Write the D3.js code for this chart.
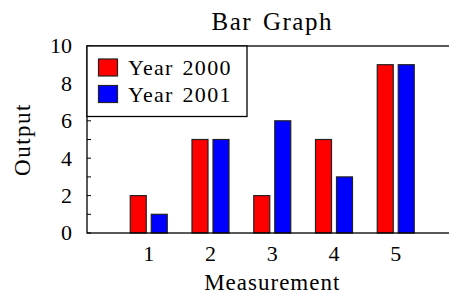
<!DOCTYPE html>
<html>
<head>
<meta charset="utf-8">
<script src="https://cdn.jsdelivr.net/npm/d3@7"></script>
<style>
html,body{margin:0;padding:0;background:#fff;overflow:hidden;}
svg{display:block;}
text{font-family:"Liberation Serif","Times New Roman",serif;fill:#000;}
</style>
</head>
<body>
<script>
const categories = [1, 2, 3, 4, 5];
const year2000 = [2, 5, 2, 5, 9];
const year2001 = [1, 5, 6, 3, 9];
const seriesNames = ["Year 2000", "Year 2001"];
const seriesColors = ["#ff0000", "#0000ff"];
const yTicks = [0, 2, 4, 6, 8, 10];
const yMinorTicks = [0,1,2,3,4,5,6,7,8,9,10];

const W = 449, H = 293;
const svg = d3.select("body").append("svg").attr("width", W).attr("height", H);

const x = d3.scaleLinear().domain([0, 6]).range([87, 457.5]);
const y = d3.scaleLinear().domain([0, 10]).range([233, 46]);

const series = [year2000, year2001];
const barW = 16, offs = [-18.5, 2.5];

// bars
series.forEach((vals, si) => {
  svg.append("g").selectAll("rect").data(categories).join("rect")
    .attr("x", (c) => x(c) + offs[si])
    .attr("y", (c, i) => y(vals[i]))
    .attr("width", barW)
    .attr("height", (c, i) => y(0) - y(vals[i]))
    .attr("fill", seriesColors[si])
    .attr("stroke", "#222")
    .attr("stroke-width", 1.2);
});

// frame
const fr = svg.append("g").attr("stroke", "#000").attr("stroke-width", 1.3).attr("fill", "none");
fr.append("rect").attr("x", x(0)).attr("y", y(10)).attr("width", x(6) - x(0)).attr("height", y(0) - y(10));

// y ticks inward
svg.append("g").selectAll("line").data(yMinorTicks).join("line")
  .attr("x1", x(0)).attr("x2", x(0) + 4)
  .attr("y1", d => y(d)).attr("y2", d => y(d))
  .attr("stroke", "#000").attr("stroke-width", 1);

// y tick labels
svg.append("g").selectAll("text").data(yTicks).join("text")
  .attr("x", 72).attr("y", d => y(d)).attr("dy", "0.34em")
  .attr("text-anchor", "end").attr("font-size", 22)
  .text(d => d);

// x tick labels
svg.append("g").selectAll("text").data(categories).join("text")
  .attr("x", d => x(d)).attr("y", 261)
  .attr("text-anchor", "middle").attr("font-size", 22)
  .text(d => d);

// titles
svg.append("text").attr("x", (x(0) + x(6)) / 2).attr("y", 30)
  .attr("text-anchor", "middle").attr("font-size", 25)
  .attr("letter-spacing", 1.5).attr("word-spacing", 3)
  .text("Bar Graph");
svg.append("text").attr("x", (x(0) + x(6)) / 2).attr("y", 289.5)
  .attr("text-anchor", "middle").attr("font-size", 23).attr("letter-spacing", 1)
  .text("Measurement");
svg.append("text").attr("transform", `translate(30,${(y(0) + y(10)) / 2}) rotate(-90)`)
  .attr("text-anchor", "middle").attr("font-size", 23).attr("letter-spacing", 1.5)
  .text("Output");

// legend
const lg = svg.append("g");
lg.append("rect").attr("x", x(0)).attr("y", y(10)).attr("width", 160).attr("height", 70.5)
  .attr("fill", "#fff").attr("stroke", "#000").attr("stroke-width", 1.3);
seriesNames.forEach((n, i) => {
  const cy = 67.5 + i * 26.5;
  lg.append("rect").attr("x", 98.5).attr("y", cy - 8.5).attr("width", 19).attr("height", 17)
    .attr("fill", seriesColors[i]).attr("stroke", "#222").attr("stroke-width", 1.2);
  lg.append("text").attr("x", 128).attr("y", cy + 7.5).attr("font-size", 22)
    .attr("letter-spacing", 1.3).attr("word-spacing", 2).text(n);
});
</script>
</body>
</html>
